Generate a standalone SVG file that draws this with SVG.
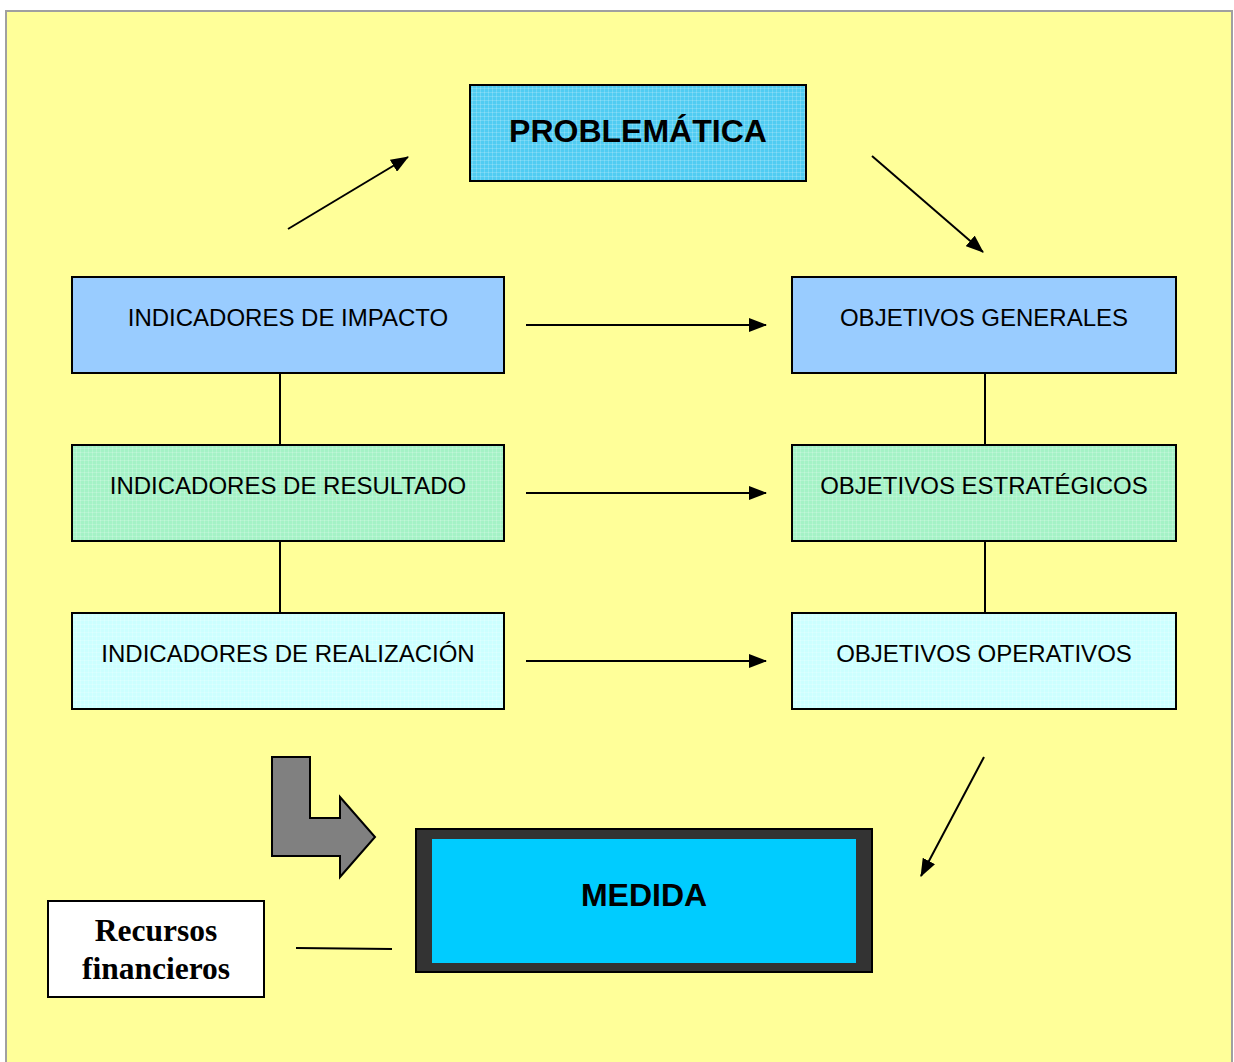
<svg xmlns="http://www.w3.org/2000/svg" width="1234" height="1062" viewBox="0 0 1234 1062">
<defs>
<marker id="ah" viewBox="0 0 18 14" refX="17" refY="7" markerWidth="18" markerHeight="14" markerUnits="userSpaceOnUse" orient="auto">
<path d="M0,0 L18,7 L0,14 Z" fill="#000"/>
</marker>
<pattern id="grid" width="4" height="4" patternUnits="userSpaceOnUse">
<rect width="4" height="4" fill="none"/>
<path d="M0,0.5 H4 M0.5,0 V4" stroke="#ffffff" stroke-opacity="0.18" stroke-width="1"/>
</pattern>
</defs>
<style>
.box{stroke:#000;stroke-width:2}
.lbl{font-family:"Liberation Sans",Arial,sans-serif;font-size:24px;fill:#000;text-anchor:middle}
.big{font-family:"Liberation Sans",Arial,sans-serif;font-weight:bold;font-size:32px;fill:#000;text-anchor:middle}
.ser{font-family:"Liberation Serif","Times New Roman",serif;font-weight:bold;font-size:31.5px;fill:#000;text-anchor:middle}
.ln{stroke:#000;stroke-width:2;fill:none}
.arr{stroke:#000;stroke-width:2;fill:none;marker-end:url(#ah)}
</style>
<rect x="6" y="11" width="1226" height="1060" fill="#FFFF99" stroke="#A0A0A0" stroke-width="2"/>

<g id="connectors">
<line class="arr" x1="288" y1="229" x2="408" y2="157"/>
<line class="arr" x1="872" y1="156" x2="983" y2="252"/>
<line class="arr" x1="984" y1="757" x2="921" y2="876"/>
<line class="arr" x1="526" y1="325" x2="766" y2="325"/>
<line class="arr" x1="526" y1="493" x2="766" y2="493"/>
<line class="arr" x1="526" y1="661" x2="766" y2="661"/>
<line class="ln" x1="280" y1="373" x2="280" y2="445"/>
<line class="ln" x1="280" y1="541" x2="280" y2="613"/>
<line class="ln" x1="985" y1="373" x2="985" y2="445"/>
<line class="ln" x1="985" y1="541" x2="985" y2="613"/>
<line class="ln" x1="296" y1="948" x2="392" y2="949"/>
<polygon points="272,757 310,757 310,818 340,818 340,797 375,837 340,877 340,856 272,856" fill="#808080" stroke="#000" stroke-width="2"/>
</g>

<g id="problematica">
<rect class="box" x="470" y="85" width="336" height="96" fill="#50CCF2"/>
<rect x="471" y="86" width="334" height="94" fill="url(#grid)"/>
<text class="big" x="638" y="142" font-size="31">PROBLEMÁTICA</text>
</g>

<g id="ind-impacto">
<rect class="box" x="72" y="277" width="432" height="96" fill="#99CCFF"/>
<text class="lbl" x="288" y="326">INDICADORES DE IMPACTO</text>
</g>
<g id="ind-resultado">
<rect class="box" x="72" y="445" width="432" height="96" fill="#A4F2C6"/>
<rect x="73" y="446" width="430" height="94" fill="url(#grid)"/>
<text class="lbl" x="288" y="494">INDICADORES DE RESULTADO</text>
</g>
<g id="ind-realizacion">
<rect class="box" x="72" y="613" width="432" height="96" fill="#CCFFFF"/>
<rect x="73" y="614" width="430" height="94" fill="url(#grid)"/>
<text class="lbl" x="288" y="662">INDICADORES DE REALIZACIÓN</text>
</g>

<g id="obj-generales">
<rect class="box" x="792" y="277" width="384" height="96" fill="#99CCFF"/>
<text class="lbl" x="984" y="326">OBJETIVOS GENERALES</text>
</g>
<g id="obj-estrategicos">
<rect class="box" x="792" y="445" width="384" height="96" fill="#A4F2C6"/>
<rect x="793" y="446" width="382" height="94" fill="url(#grid)"/>
<text class="lbl" x="984" y="494">OBJETIVOS ESTRATÉGICOS</text>
</g>
<g id="obj-operativos">
<rect class="box" x="792" y="613" width="384" height="96" fill="#CCFFFF"/>
<rect x="793" y="614" width="382" height="94" fill="url(#grid)"/>
<text class="lbl" x="984" y="662">OBJETIVOS OPERATIVOS</text>
</g>

<g id="medida">
<rect class="box" x="416" y="829" width="456" height="143" fill="#333333"/>
<rect x="432" y="839" width="424" height="124" fill="#00CCFF"/>
<text class="big" x="644" y="906">MEDIDA</text>
</g>

<g id="recursos">
<rect class="box" x="48" y="901" width="216" height="96" fill="#FFFFFF"/>
<text class="ser" x="156" y="941">Recursos</text>
<text class="ser" x="156" y="979">financieros</text>
</g>
</svg>
